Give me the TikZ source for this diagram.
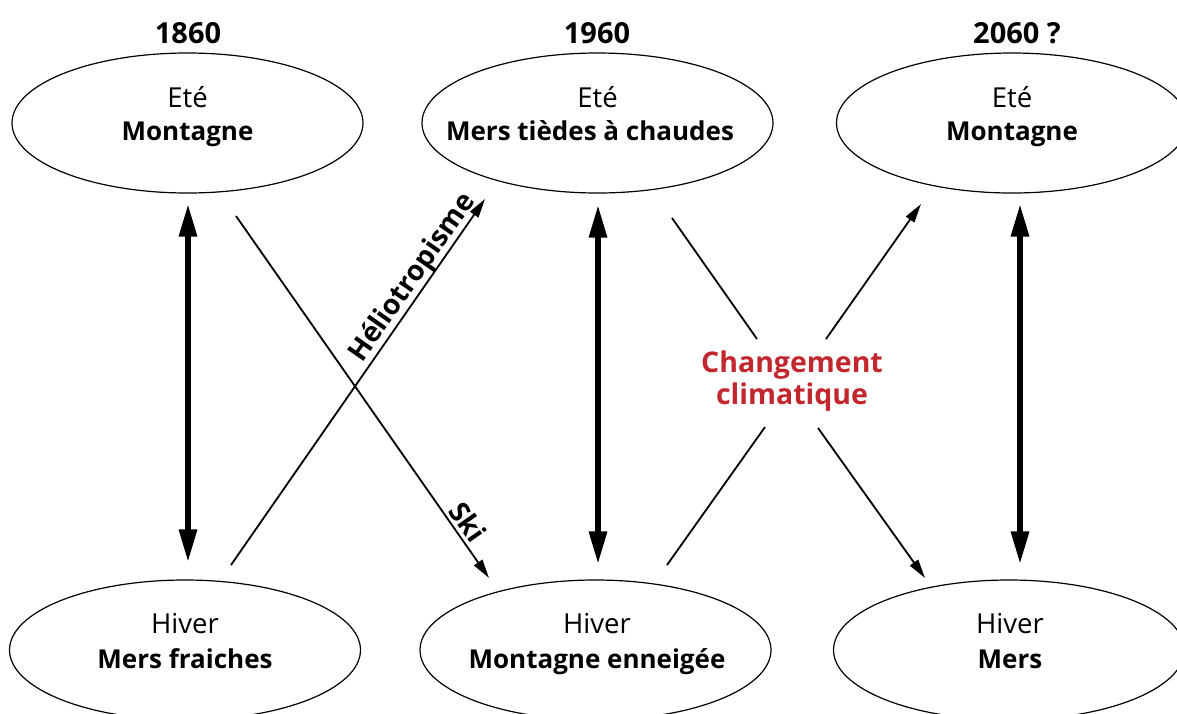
\documentclass[tikz,border=0pt]{standalone}
\usepackage{fontspec}
\setmainfont{Open Sans}
\usetikzlibrary{arrows.meta,shapes.geometric}
\definecolor{cred}{RGB}{193,39,45}
\begin{document}
\begin{tikzpicture}[x=1pt,y=-1pt,
  ell/.style={draw, ellipse, line width=1.2pt, minimum width=351pt, minimum height=140pt, inner sep=0pt},
  yr/.style={font=\fontsize{29}{32}\selectfont\bfseries, anchor=base, inner sep=0pt},
  lt/.style={font=\fontsize{27.5}{30}\selectfont, anchor=base, inner sep=0pt},
  bt/.style={font=\fontsize{26}{30}\selectfont\bfseries, anchor=base, inner sep=0pt},
  bigarrow/.style={line width=6pt, {Triangle[length=33pt,width=17pt]}-{Triangle[length=33pt,width=17pt]}},
  thinline/.style={line width=1.8pt},
  thinarrow/.style={line width=1.8pt, -{Triangle[length=19pt,width=10pt]}},
  lbl/.style={font=\fontsize{28}{30}\selectfont\bfseries, inner sep=0pt},
  red/.style={font=\fontsize{28.5}{30}\selectfont\bfseries, text=cred, anchor=base, inner sep=0pt},
  ]
\useasboundingbox (0,0) rectangle (1177,713);
% ellipses
\node[ell] (tl) at (187.5,123) {};
\node[ell] (tm) at (597.5,123) {};
\node[ell] (tr) at (1012,123) {};
\node[ell] (bl) at (185,650) {};
\node[ell] (bm) at (595.5,650) {};
\node[ell] (br) at (1009,650) {};
% years
\node[yr] (y1) at (188,43) {1860};
\node[yr] (y2) at (597,43) {1960};
\node[yr] (y3) at (1017,43) {2060 ?};
% texts
\node[lt] (tl1) at (187.5,107) {Eté};
\node[bt] (tl2) at (187.5,140) {Montagne};
\node[lt] (tm1) at (597.5,107) {Eté};
\node[bt] (tm2) at (590,140) {Mers tièdes à chaudes};
\node[lt] (tr1) at (1012,107) {Eté};
\node[bt] (tr2) at (1012,140) {Montagne};
\node[lt] (bl1) at (185,633) {Hiver};
\node[bt] (bl2) at (185,668) {Mers fraiches};
\node[lt] (bm1) at (597,633) {Hiver};
\node[bt] (bm2) at (597,668) {Montagne enneigée};
\node[lt] (br1) at (1010,633) {Hiver};
\node[bt] (br2) at (1010,668) {Mers};
% vertical thick arrows
\draw[bigarrow, shorten <=10pt, shorten >=17pt] ([xshift=0.5pt]tl.south) -- ([xshift=3pt]bl.north);
\draw[bigarrow, shorten <=11pt, shorten >=15pt] ([xshift=0.5pt]tm.south) -- ([xshift=2.5pt]bm.north);
\draw[bigarrow, shorten <=10pt, shorten >=15pt] ([xshift=8pt]tr.south) -- ([xshift=11pt]br.north);
% left cross
\coordinate (skiA) at (236,216);
\coordinate (skiB) at (489,578);
\coordinate (helA) at (231,565);
\coordinate (helB) at (485,199);
\draw[thinarrow] (skiA) -- (skiB);
\draw[thinarrow] (helA) -- (helB);
\node[lbl, rotate=55] (helio) at (413,278) {Héliotropisme};
\node[lbl, rotate=-55] (ski) at (468,522) {Ski};
% right cross
\coordinate (c1a) at (672,218);
\coordinate (c1b) at (757,339);
\coordinate (c1c) at (818,428);
\coordinate (c1d) at (925,578);
\coordinate (c2a) at (667,565);
\coordinate (c2b) at (765,427);
\coordinate (c2c) at (826,339);
\coordinate (c2d) at (921,204);
\draw[thinline] (c1a) -- (c1b);
\draw[thinarrow] (c1c) -- (c1d);
\draw[thinline] (c2a) -- (c2b);
\draw[thinarrow] (c2c) -- (c2d);
\node[red] (cc1) at (792,372) {Changement};
\node[red] (cc2) at (792,404) {climatique};
\end{tikzpicture}
\end{document}
